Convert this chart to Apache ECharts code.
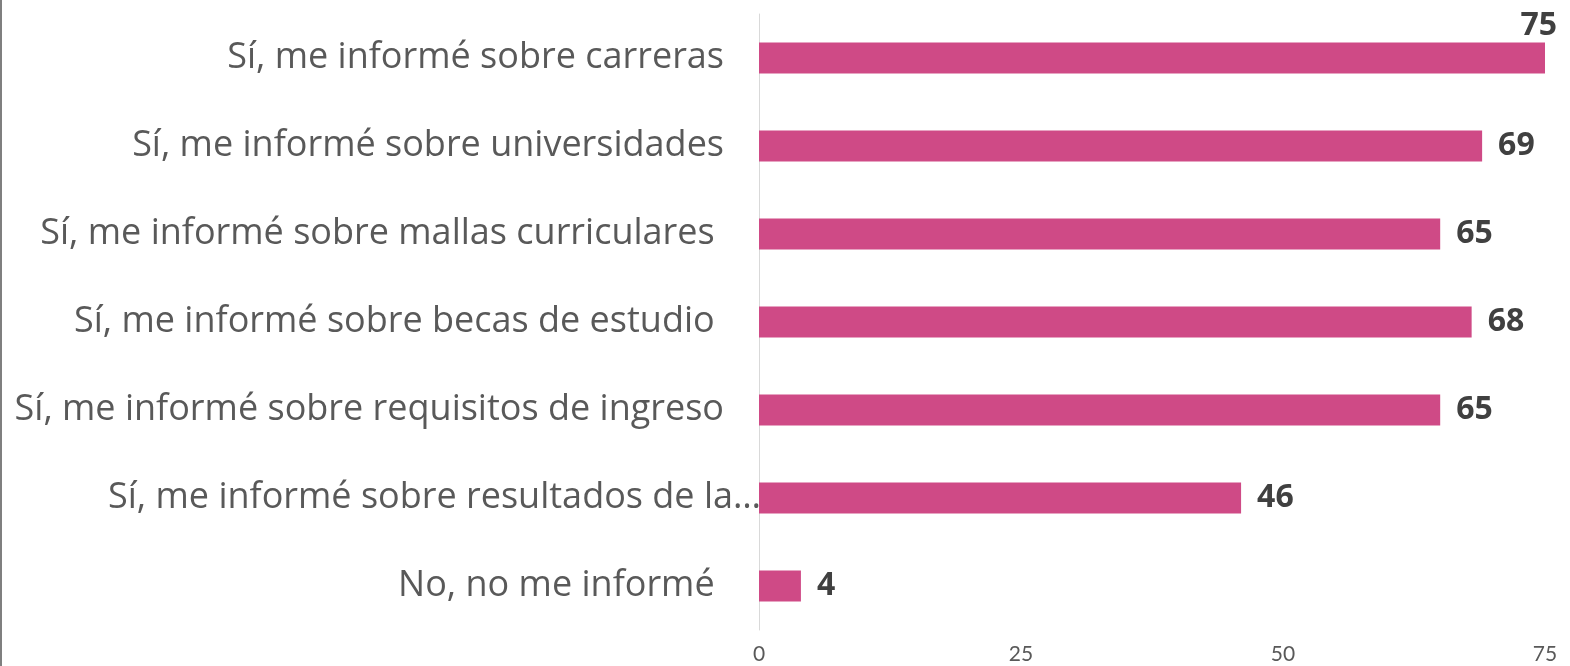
<!DOCTYPE html>
<html>
<head>
<meta charset="utf-8">
<script src="https://cdn.jsdelivr.net/npm/echarts@6/dist/echarts.min.js"></script>
<style>
  html, body { margin: 0; padding: 0; background: #fff; }
  #chart { width: 1570px; height: 666px; border-left: 2px solid #7f7f7f; box-sizing: border-box; }
</style>
</head>
<body>
<div id="chart"></div>
<script>
// categories bottom -> top (ECharts draws category axis from bottom on a vertical axis)
var categories = [
  'No, no me informé ',
  'Sí, me informé sobre resultados de la…',
  'Sí, me informé sobre requisitos de ingreso',
  'Sí, me informé sobre becas de estudio ',
  'Sí, me informé sobre mallas curriculares ',
  'Sí, me informé sobre universidades',
  'Sí, me informé sobre carreras'
];
var values = [4, 46, 65, 68, 65, 69, 75];
var xTicks = [0, 25, 50, 75];

var chart = echarts.init(document.getElementById('chart'));

var barData = values.map(function (v, i) {
  if (i === values.length - 1) {
    // biggest bar: label sits above the bar end, like the original
    return {
      value: v,
      label: { position: ['100%', -1], align: 'right', verticalAlign: 'bottom', offset: [12, 0] }
    };
  }
  return v;
});

var catData = categories.map(function (c) {
  if (c.indexOf('…') >= 0) {
    return { value: c, textStyle: { padding: [0, -37, 0, 0] } };
  }
  return c;
});

chart.setOption({
  animation: false,
  grid: { left: 757, right: 25, top: 14, bottom: 36, containLabel: false },
  xAxis: {
    type: 'value',
    min: xTicks[0],
    max: xTicks[xTicks.length - 1],
    interval: 25,
    axisLine: { show: false },
    axisTick: { show: false },
    splitLine: { show: false },
    axisLabel: {
      color: '#595959',
      fontSize: 21,
      fontFamily: 'Liberation Sans Narrow, Lato, sans-serif',
      margin: 14
    }
  },
  yAxis: {
    type: 'category',
    data: catData,
    axisLine: { show: true, lineStyle: { color: '#d9d9d9', width: 1 } },
    axisTick: { show: false },
    axisLabel: {
      color: '#595959',
      fontSize: 36,
      fontFamily: 'Open Sans, sans-serif',
      margin: 35
    }
  },
  series: [{
    type: 'bar',
    data: barData,
    barWidth: 31,
    itemStyle: { color: '#CF4A86' },
    label: {
      show: true,
      position: 'right',
      distance: 16,
      color: '#404040',
      fontSize: 32,
      fontWeight: 'bold',
      fontFamily: 'Open Sans, sans-serif'
    }
  }]
});
</script>
</body>
</html>
